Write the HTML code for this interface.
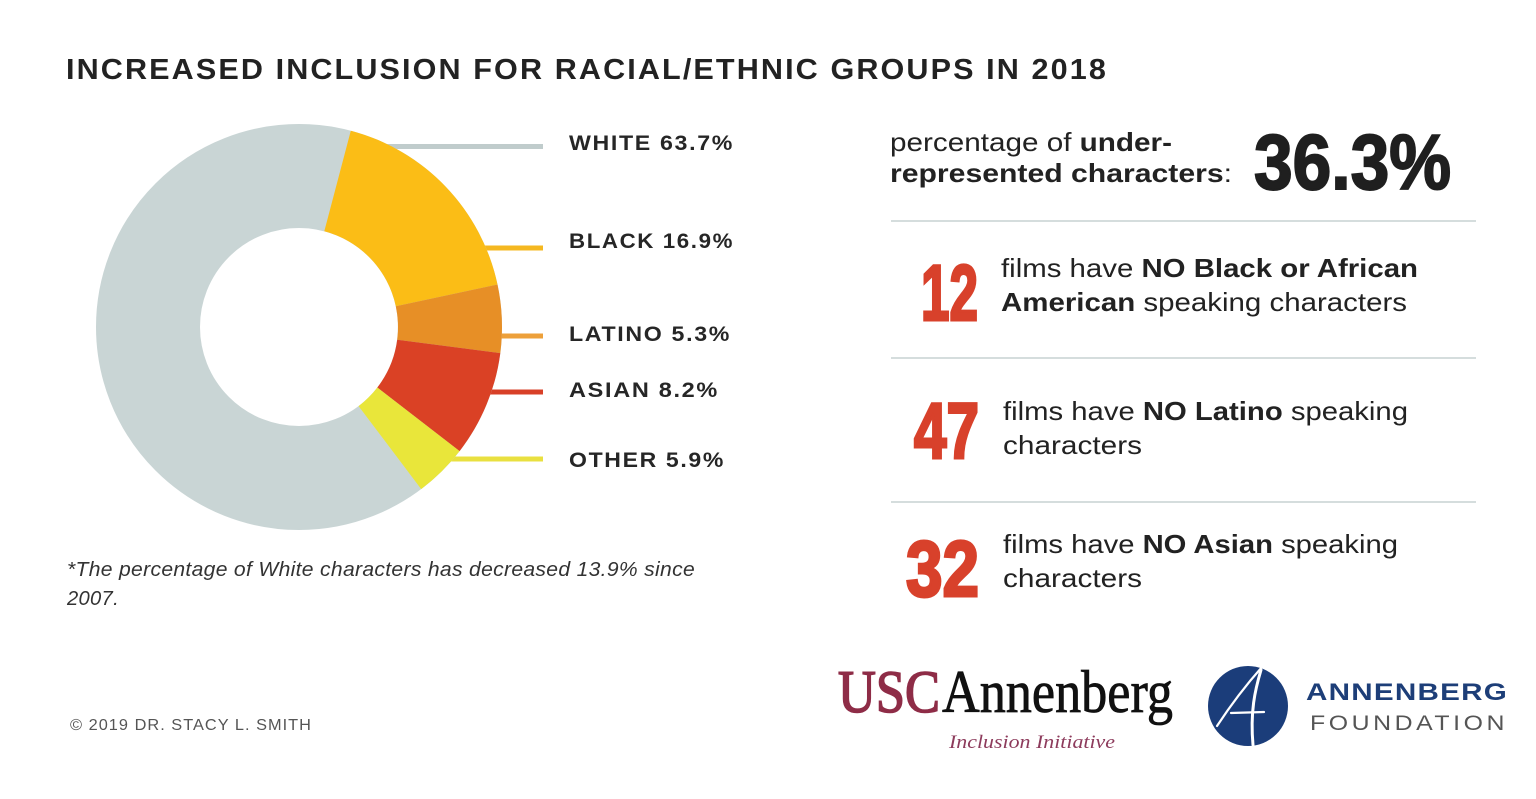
<!DOCTYPE html>
<html>
<head>
<meta charset="utf-8">
<style>
  html,body{margin:0;padding:0;background:#fff;}
  svg{display:block;}
  .sans{font-family:"Liberation Sans",Arial,sans-serif;}
  .serif{font-family:"Liberation Serif","Times New Roman",serif;}
</style>
</head>
<body>
<svg width="1536" height="799" viewBox="0 0 1536 799" xmlns="http://www.w3.org/2000/svg">
  <rect x="0" y="0" width="1536" height="799" fill="#ffffff"/>

  <!-- Title -->
  <text class="sans" x="66" y="79" font-size="29" font-weight="bold" fill="#222" letter-spacing="2" textLength="1042" lengthAdjust="spacingAndGlyphs">INCREASED INCLUSION FOR RACIAL/ETHNIC GROUPS IN 2018</text>

  <!-- Leader lines (behind donut) -->
  <g stroke-width="5" fill="none">
    <line x1="380" y1="146.5" x2="543" y2="146.5" stroke="#c0cccc"/>
    <line x1="478" y1="248" x2="543" y2="248" stroke="#f5b820"/>
    <line x1="495" y1="336" x2="543" y2="336" stroke="#eda03a"/>
    <line x1="485" y1="392" x2="543" y2="392" stroke="#d84028"/>
    <line x1="445" y1="459" x2="543" y2="459" stroke="#e9e040"/>
  </g>

  <!-- Donut -->
  <circle cx="299" cy="327" r="151" fill="none" stroke="#c9d5d5" stroke-width="104"/>
  <path d="M350.8,130.7 A203,203 0 0 1 497.5,284.5 L395.8,306.2 A99,99 0 0 0 324.3,231.3 Z" fill="#fbbd16"/>
  <path d="M497.5,284.5 A203,203 0 0 1 500.3,353.1 L397.2,339.8 A99,99 0 0 0 395.8,306.2 Z" fill="#e78f26"/>
  <path d="M500.3,353.1 A203,203 0 0 1 459.6,451.1 L377.3,387.5 A99,99 0 0 0 397.2,339.8 Z" fill="#da4125"/>
  <path d="M459.6,451.1 A203,203 0 0 1 421.2,489.1 L358.6,406.1 A99,99 0 0 0 377.3,387.5 Z" fill="#e9e63a"/>

  <!-- Labels -->
  <g class="sans" font-size="21" font-weight="bold" fill="#262626" letter-spacing="1.5">
    <text x="569" y="150" textLength="165" lengthAdjust="spacingAndGlyphs">WHITE 63.7%</text>
    <text x="569" y="248" textLength="165" lengthAdjust="spacingAndGlyphs">BLACK 16.9%</text>
    <text x="569" y="341" textLength="162" lengthAdjust="spacingAndGlyphs">LATINO 5.3%</text>
    <text x="569" y="397" textLength="150" lengthAdjust="spacingAndGlyphs">ASIAN 8.2%</text>
    <text x="569" y="467" textLength="156" lengthAdjust="spacingAndGlyphs">OTHER 5.9%</text>
  </g>

  <!-- Footnote -->
  <g class="sans" font-size="20" font-style="italic" fill="#333" letter-spacing="0.3">
    <text x="67" y="576" textLength="628" lengthAdjust="spacingAndGlyphs">*The percentage of White characters has decreased 13.9% since</text>
    <text x="67" y="605" textLength="52" lengthAdjust="spacingAndGlyphs">2007.</text>
  </g>

  <!-- Copyright -->
  <text class="sans" x="70" y="730" font-size="16" fill="#555" letter-spacing="1" textLength="242" lengthAdjust="spacingAndGlyphs">© 2019 DR. STACY L. SMITH</text>

  <!-- Right: headline stat -->
  <g class="sans" font-size="26" fill="#222">
    <text x="890" y="151" textLength="282" lengthAdjust="spacingAndGlyphs">percentage of <tspan font-weight="bold">under-</tspan></text>
    <text x="890" y="182" textLength="342" lengthAdjust="spacingAndGlyphs"><tspan font-weight="bold">represented characters</tspan>:</text>
  </g>
  <text class="sans" x="1254" y="189" font-size="78" font-weight="bold" fill="#1f1f1f" stroke="#1f1f1f" stroke-width="2" textLength="197" lengthAdjust="spacingAndGlyphs">36.3%</text>

  <!-- Separators -->
  <g stroke="#d5dddd" stroke-width="2">
    <line x1="891" y1="221" x2="1476" y2="221"/>
    <line x1="891" y1="358" x2="1476" y2="358"/>
    <line x1="891" y1="502" x2="1476" y2="502"/>
  </g>

  <!-- Big red numbers -->
  <g class="sans" font-size="79" font-weight="bold" fill="#d8412b" stroke="#d8412b" stroke-width="3">
    <text x="921" y="320" textLength="57" lengthAdjust="spacingAndGlyphs">12</text>
    <text x="914" y="458" textLength="65" lengthAdjust="spacingAndGlyphs">47</text>
    <text x="906" y="596" textLength="73" lengthAdjust="spacingAndGlyphs">32</text>
  </g>

  <!-- Stat texts -->
  <g class="sans" font-size="26" fill="#222">
    <text x="1001" y="277" textLength="417" lengthAdjust="spacingAndGlyphs">films have <tspan font-weight="bold">NO Black or African</tspan></text>
    <text x="1001" y="311" textLength="406" lengthAdjust="spacingAndGlyphs"><tspan font-weight="bold">American</tspan> speaking characters</text>

    <text x="1003" y="420" textLength="405" lengthAdjust="spacingAndGlyphs">films have <tspan font-weight="bold">NO Latino</tspan> speaking</text>
    <text x="1003" y="454" textLength="139" lengthAdjust="spacingAndGlyphs">characters</text>

    <text x="1003" y="553" textLength="395" lengthAdjust="spacingAndGlyphs">films have <tspan font-weight="bold">NO Asian</tspan> speaking</text>
    <text x="1003" y="587" textLength="139" lengthAdjust="spacingAndGlyphs">characters</text>
  </g>

  <!-- USC Annenberg logo -->
  <text class="serif" x="838" y="712" font-size="60" fill="#8e2c47" stroke="#8e2c47" stroke-width="1.6" textLength="102" lengthAdjust="spacingAndGlyphs">USC</text>
  <text class="serif" x="942" y="712" font-size="60" fill="#111" stroke="#111" stroke-width="0.8" textLength="231" lengthAdjust="spacingAndGlyphs">Annenberg</text>
  <text class="serif" x="949" y="748" font-size="19" font-style="italic" fill="#8d3b5c" textLength="166" lengthAdjust="spacingAndGlyphs">Inclusion Initiative</text>

  <!-- Annenberg Foundation logo -->
  <circle cx="1248" cy="706" r="40" fill="#1b3d7a"/>
  <g stroke="#ffffff" fill="none" stroke-linecap="round">
    <path d="M1217,726 Q1238,694 1262,667" stroke-width="2.2"/>
    <path d="M1261,670 C1255,690 1250,712 1253,745" stroke-width="3"/>
    <path d="M1231,713 L1264,712" stroke-width="2.2"/>
  </g>
  <text class="sans" x="1306" y="700" font-size="24" font-weight="bold" fill="#1d3e78" letter-spacing="1" textLength="202" lengthAdjust="spacingAndGlyphs">ANNENBERG</text>
  <text class="sans" x="1310" y="730" font-size="21" fill="#555" letter-spacing="3" textLength="198" lengthAdjust="spacingAndGlyphs">FOUNDATION</text>
</svg>
</body>
</html>
